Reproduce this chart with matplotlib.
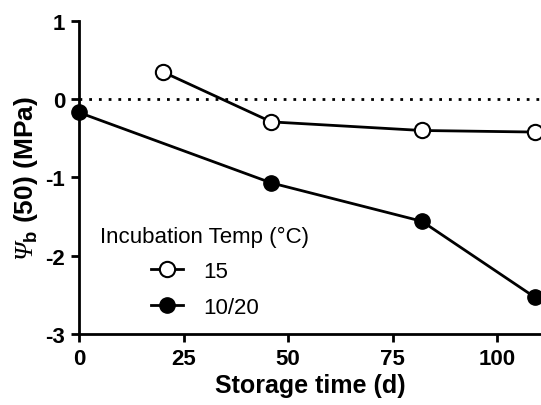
import matplotlib.pyplot as plt

plt.rcParams['font.family'] = ['Liberation Sans', 'DejaVu Sans']
plt.rcParams['axes.unicode_minus'] = False
plt.rcParams['mathtext.fontset'] = 'custom'
plt.rcParams['mathtext.rm'] = 'Liberation Sans:bold'
# Greek capitals are forced upright in \mathit, so the italic Psi goes through \mathbf
plt.rcParams['mathtext.bf'] = 'Liberation Serif:italic'

# storage time (d) and Psi_b(50) (MPa)
days_15 = [20, 46, 82, 109]
psi_15 = [0.35, -0.29, -0.40, -0.42]

days_1020 = [0, 46, 82, 109]
psi_1020 = [-0.17, -1.07, -1.56, -2.53]

x_ticks = [0, 25, 50, 75, 100]
y_ticks = [-3, -2, -1, 0, 1]


def main():
    fig = plt.figure(figsize=(5.41, 4.06), dpi=100)
    ax = fig.add_axes([0.146, 0.175, 0.854, 0.771])

    ax.axhline(0, color='black', linestyle=(0, (1, 2.5)), linewidth=2.0, zorder=1)

    ax.plot(days_15, psi_15, marker='o', color='black', markerfacecolor='white',
            markeredgecolor='black', markeredgewidth=1.5, markersize=11,
            linewidth=2.0, label='15', clip_on=False, zorder=3)
    ax.plot(days_1020, psi_1020, marker='o', color='black', markerfacecolor='black',
            markersize=11, linewidth=2.0, label='10/20', clip_on=False, zorder=3)

    ax.set_xlim(0, 110.5)
    ax.set_ylim(-3, 1)
    ax.set_xticks(x_ticks)
    ax.set_yticks(y_ticks)

    for side in ['top', 'right']:
        ax.spines[side].set_visible(False)
    for side in ['left', 'bottom']:
        ax.spines[side].set_linewidth(2.0)
    ax.tick_params(direction='out', length=6, width=2.0, labelsize=16, pad=4)
    for lbl in ax.get_xticklabels() + ax.get_yticklabels():
        lbl.set_fontweight('bold')

    ax.set_xlabel('Storage time (d)', fontsize=18, fontweight='bold', labelpad=3)
    ax.set_ylabel(r'$\mathbf{Ψ}_{\mathrm{b}}$ (50) (MPa)', fontsize=19,
                  fontweight='bold', labelpad=4)

    # legend title sits left of the indented entries
    ax.text(0.045, 0.31, 'Incubation Temp (°C)', transform=ax.transAxes,
            fontsize=16, ha='left', va='center')
    ax.legend(loc='upper left', bbox_to_anchor=(0.156, 0.234), frameon=False,
              fontsize=16, handlelength=1.45, handletextpad=0.9,
              labelspacing=0.67, borderpad=0, borderaxespad=0)

    fig.savefig('out.png', dpi=100)


if __name__ == "__main__":
    main()
